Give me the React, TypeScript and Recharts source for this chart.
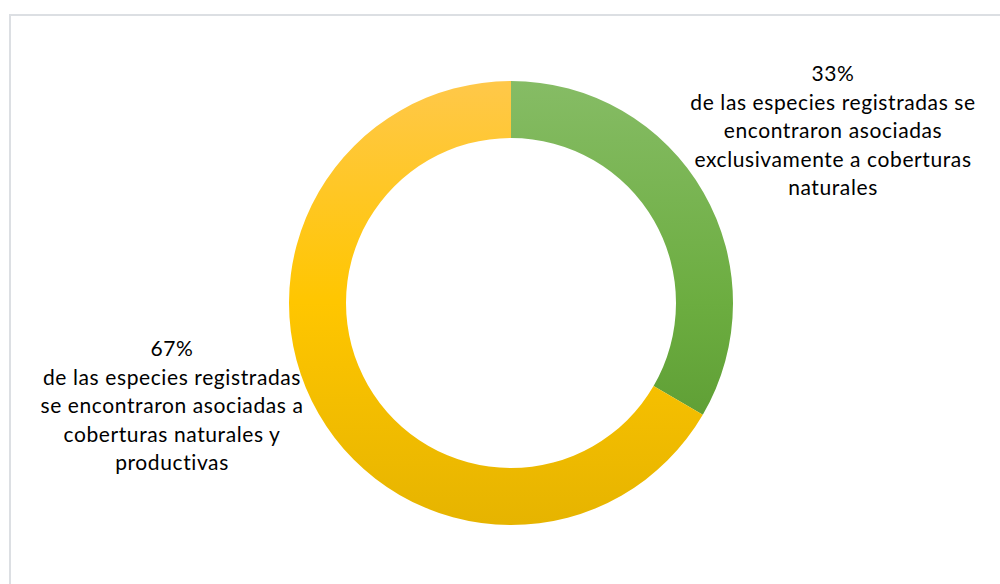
import { PieChart, Pie, Cell } from 'recharts';

// categories and shares (percent)
const categories = ['naturales', 'naturalesProductivas'];
const shares = [33.4, 66.6];
const labelLines = [
  ['33%', 'de las especies registradas se', 'encontraron asociadas', 'exclusivamente a coberturas', 'naturales'],
  ['67%', 'de las especies registradas', 'se encontraron asociadas a', 'coberturas naturales y', 'productivas'],
];

const data = categories.map((name, i) => ({ name, value: shares[i] }));

const FILLS = ['url(#gradGreen)', 'url(#gradYellow)'];
// label offsets from the pie centre (first baseline, text centre)
const LABEL_OFFSETS = [
  { dx: 322, dy: -222 },
  { dx: -339, dy: 53 },
];

const renderLabel = (props: any) => {
  const { cx, cy, index } = props;
  const off = LABEL_OFFSETS[index];
  const lines = labelLines[index];
  return (
    <text
      x={cx + off.dx}
      y={cy + off.dy}
      textAnchor="middle"
      fill="#000"
      style={{ fontFamily: 'Lato, sans-serif', fontSize: 21, letterSpacing: 0.6 }}
    >
      {lines.map((l, i) => (
        <tspan key={i} x={cx + off.dx} dy={i === 0 ? 0 : 28.5}>
          {l}
        </tspan>
      ))}
    </text>
  );
};

export default function App() {
  return (
    <div style={{ position: 'absolute', left: 0, top: 0, width: 1000, height: 584, overflow: 'hidden', background: '#fff' }}>
      <div
        style={{
          position: 'absolute',
          left: 9,
          top: 14,
          width: 1010,
          height: 600,
          border: '2px solid #dcdfe3',
        }}
      />
      <div style={{ position: 'absolute', left: 0, top: 0 }}>
        <PieChart width={1000} height={584} margin={{ top: 0, right: 0, bottom: 0, left: 0 }}>
          <defs>
            <linearGradient id="gradGreen" gradientUnits="userSpaceOnUse" x1="0" y1="80" x2="0" y2="525">
              <stop offset="0" stopColor="#86bc65" />
              <stop offset="0.5" stopColor="#6cad40" />
              <stop offset="0.75" stopColor="#60a036" />
              <stop offset="1" stopColor="#58972e" />
            </linearGradient>
            <linearGradient id="gradYellow" gradientUnits="userSpaceOnUse" x1="0" y1="80" x2="0" y2="525">
              <stop offset="0" stopColor="#ffc84a" />
              <stop offset="0.5" stopColor="#ffc600" />
              <stop offset="1" stopColor="#e6b400" />
            </linearGradient>
          </defs>
          <Pie
            data={data}
            dataKey="value"
            nameKey="name"
            cx={511}
            cy={303}
            innerRadius={165}
            outerRadius={222}
            startAngle={90}
            endAngle={-270}
            stroke="none"
            label={renderLabel}
            labelLine={false}
            isAnimationActive={false}
          >
            {data.map((d, i) => (
              <Cell key={d.name} fill={FILLS[i]} />
            ))}
          </Pie>
        </PieChart>
      </div>
    </div>
  );
}
